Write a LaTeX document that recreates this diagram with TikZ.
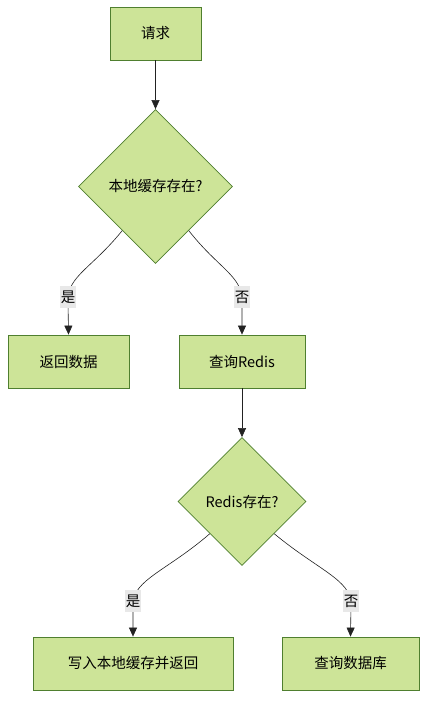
\documentclass[tikz,border=0pt]{standalone}
\usepackage{fontspec}
\setmainfont{Noto Sans CJK SC}
\usetikzlibrary{shapes.geometric,arrows.meta,calc}
\definecolor{boxfill}{HTML}{CDE498}
\definecolor{boxline}{HTML}{4F7F2F}
\definecolor{edgecol}{HTML}{222222}
\definecolor{lblfill}{HTML}{E8E8E8}
\begin{document}
\begin{tikzpicture}[x=1pt,y=-1pt,
  font=\fontsize{14.5}{17}\selectfont,
  proc/.style={draw=boxline,fill=boxfill,line width=0.8pt,minimum height=53pt,inner sep=2pt,anchor=center},
  decide/.style={draw=boxline,fill=boxfill,line width=0.8pt,shape=diamond,aspect=1,inner sep=0pt,anchor=center},
  arr/.style={draw=edgecol,line width=0.6pt,-{Triangle[length=9pt,width=8pt]}},
  lbl/.style={fill=lblfill,inner sep=1pt,minimum height=22pt,anchor=center}]
\useasboundingbox (0,0) rectangle (436,712);
\node[proc,minimum width=91pt] (req) at (155.5,33.5) {请求};
\node[decide,minimum width=154pt,minimum height=154pt] (d1) at (155.5,186.5) {本地缓存存在?};
\node[proc,minimum width=121pt] (ret) at (68.5,361.5) {返回数据};
\node[proc,minimum width=126pt] (qr) at (242,361.5) {查询Redis};
\node[decide,minimum width=128pt,minimum height=128pt] (d2) at (242,501.5) {Redis存在?};
\node[proc,minimum width=200pt] (wr) at (133,663.5) {写入本地缓存并返回};
\node[proc,minimum width=137pt] (qdb) at (350.5,663.5) {查询数据库};

\coordinate (s1) at ($(d1.south)!0.43!(d1.west)$);
\coordinate (s2) at ($(d1.south)!0.43!(d1.east)$);
\coordinate (s3) at ($(d2.south)!0.5!(d2.west)$);
\coordinate (s4) at ($(d2.south)!0.5!(d2.east)$);

\draw[arr] (req.south) -- (d1.north);
\draw[arr] (s1) .. controls (92,268) and (68,276) .. (68,300) -- (ret.north);
\draw[arr] (s2) .. controls (218,268) and (242,276) .. (242,300) -- (qr.north);
\draw[arr] (qr.south) -- (d2.north);
\draw[arr] (s3) .. controls (168,570) and (133,580) .. (133,604) -- (wr.north);
\draw[arr] (s4) .. controls (318,570) and (351,580) .. (351,604) -- (qdb.north);

\node[lbl] (l1) at (68,297) {是};
\node[lbl] (l2) at (242,297) {否};
\node[lbl] (l3) at (133,601) {是};
\node[lbl] (l4) at (351,601) {否};
\end{tikzpicture}
\end{document}
